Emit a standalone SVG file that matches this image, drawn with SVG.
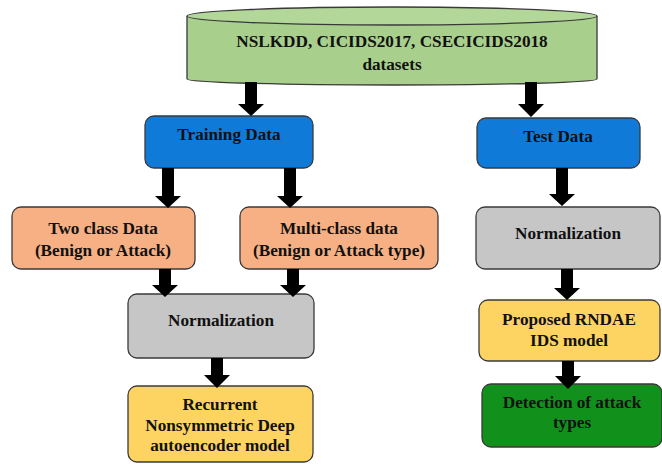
<svg xmlns="http://www.w3.org/2000/svg" width="662" height="464" viewBox="0 0 662 464">
<style>
.box{stroke:#3a3a3a;stroke-width:1.3}
.t{font-family:"Liberation Serif","Times New Roman",serif;font-weight:bold;font-size:17.2px;fill:#111;text-anchor:middle}
.blue{fill:#0F7AD8}
.orange{fill:#F6B084}
.gray{fill:#C6C6C6}
.yellow{fill:#FDD462}
.dgreen{fill:#12901C}
.arr{fill:#000}
</style>
<rect width="662" height="464" fill="#fff"/>
<g id="datasets">
<path d="M187,16 L187,79 A205,6 0 0 0 597,79 L597,16" fill="#A9CF8C" stroke="#3a3a3a" stroke-width="1.3"/>
<ellipse cx="392" cy="16" rx="205" ry="9" fill="#B3D699" stroke="#3a3a3a" stroke-width="1.3"/>
<text class="t" x="392" y="47">NSLKDD, CICIDS2017, CSECICIDS2018</text>
<text class="t" x="392" y="70">datasets</text>
</g>
<g id="training">
<rect class="box blue" x="145" y="116" width="168" height="52" rx="9"/>
<text class="t" x="229" y="140">Training Data</text>
</g>
<g id="test">
<rect class="box blue" x="477" y="118" width="163" height="50" rx="9"/>
<text class="t" x="558" y="142">Test Data</text>
</g>
<g id="twoclass">
<rect class="box orange" x="12" y="207" width="183" height="62" rx="9"/>
<text class="t" x="103" y="234">Two class Data</text>
<text class="t" x="103" y="256">(Benign or Attack)</text>
</g>
<g id="multiclass">
<rect class="box orange" x="240" y="207" width="198" height="62" rx="9"/>
<text class="t" x="339" y="234">Multi-class data</text>
<text class="t" x="339" y="256">(Benign or Attack type)</text>
</g>
<g id="norm-left">
<rect class="box gray" x="128" y="294" width="186" height="64" rx="9"/>
<text class="t" x="221" y="326">Normalization</text>
</g>
<g id="rndae-model">
<rect class="box yellow" x="128" y="386" width="185" height="76" rx="9"/>
<text class="t" x="220" y="410">Recurrent</text>
<text class="t" x="220" y="431">Nonsymmetric Deep</text>
<text class="t" x="220" y="451">autoencoder  model</text>
</g>
<g id="norm-right">
<rect class="box gray" x="476" y="207" width="184" height="62" rx="9"/>
<text class="t" x="568" y="239">Normalization</text>
</g>
<g id="proposed">
<rect class="box yellow" x="479" y="300" width="181" height="61" rx="9"/>
<text class="t" x="569" y="325">Proposed RNDAE</text>
<text class="t" x="569" y="346">IDS model</text>
</g>
<g id="detection">
<rect class="box dgreen" x="482" y="384" width="180" height="63" rx="9"/>
<text class="t" x="572" y="408">Detection of attack</text>
<text class="t" x="572" y="428">types</text>
</g>
<g id="connectors">
<polygon class="arr" points="245,82 257,82 257,104 264,104 251,116 238,104 245,104"/>
<polygon class="arr" points="525,82 537,82 537,104 544,104 531,117 518,104 525,104"/>
<polygon class="arr" points="162,168 174,168 174,196 181,196 168,208 155,196 162,196"/>
<polygon class="arr" points="284,168 296,168 296,196 303,196 290,208 277,196 284,196"/>
<polygon class="arr" points="556,168 568,168 568,194 575,194 562,206 549,194 556,194"/>
<polygon class="arr" points="159,269 171,269 171,285 178,285 165,297 152,285 159,285"/>
<polygon class="arr" points="287,269 299,269 299,285 306,285 293,297 280,285 287,285"/>
<polygon class="arr" points="211,358 223,358 223,375 230,375 217,388 204,375 211,375"/>
<polygon class="arr" points="561,269 573,269 573,288 580,288 567,300 554,288 561,288"/>
<polygon class="arr" points="562,361 574,361 574,376 581,376 568,389 555,376 562,376"/>
</g>
</svg>
